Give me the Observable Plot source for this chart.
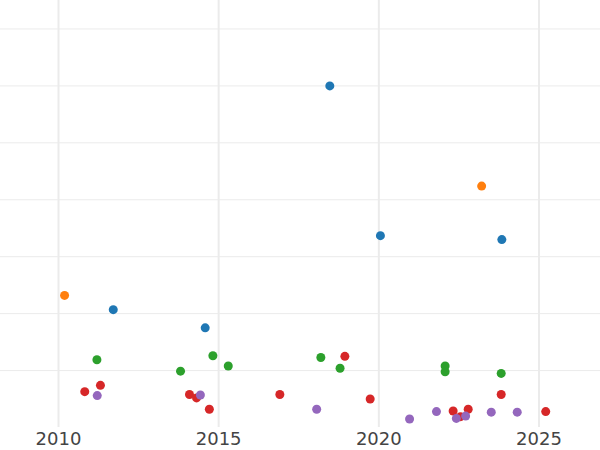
<!DOCTYPE html>
<html>
<head>
<meta charset="utf-8">
<script src="https://cdn.jsdelivr.net/npm/d3@7"></script>
<script src="https://cdn.jsdelivr.net/npm/@observablehq/plot@0.6"></script>
<style>
  html, body { margin: 0; padding: 0; background: #fff; }
  #chart { width: 600px; height: 450px; }
</style>
</head>
<body>
<div id="chart"></div>
<script>
// Series (colour groups) and their points: year (x) and value (y)
const seriesNames = ["Series 1", "Series 2", "Series 3", "Series 4", "Series 5"];
const seriesColors = ["#1f77b4", "#ff7f0e", "#2ca02c", "#d62728", "#9467bd"];

const s1Years   = [2018.47, 2020.05, 2023.84, 2011.71, 2014.58];
const s1Values  = [6.00, 3.37, 3.30, 2.07, 1.75];

const s2Years  = [2023.21, 2010.19];
const s2Values = [4.24, 2.32];

const s3Years  = [2011.20, 2013.81, 2014.82, 2015.30, 2018.19, 2018.79, 2022.07, 2022.07, 2023.82];
const s3Values = [1.19, 0.99, 1.26, 1.08, 1.23, 1.04, 1.08, 0.98, 0.95];

const s4Years  = [2010.82, 2011.31, 2014.09, 2014.31, 2014.71, 2016.91, 2018.94, 2019.73, 2022.32, 2022.55, 2022.79, 2023.82, 2025.21];
const s4Values = [0.63, 0.74, 0.58, 0.52, 0.32, 0.58, 1.25, 0.50, 0.29, 0.19, 0.32, 0.58, 0.28];

const s5Years  = [2011.21, 2014.43, 2018.06, 2020.96, 2021.80, 2022.42, 2022.71, 2023.51, 2024.32];
const s5Values = [0.56, 0.57, 0.32, 0.15, 0.28, 0.16, 0.20, 0.27, 0.27];

const xTicks = [2010, 2015, 2020, 2025];
const yGrid = [1, 2, 3, 4, 5, 6, 7];

const groups = [
  [s1Years, s1Values],
  [s2Years, s2Values],
  [s3Years, s3Values],
  [s4Years, s4Values],
  [s5Years, s5Values]
];
const data = [];
groups.forEach(([xs, ys], gi) => {
  xs.forEach((x, i) => data.push({ year: x, value: ys[i], series: seriesNames[gi] }));
});

const chart = Plot.plot({
  width: 600,
  height: 450,
  marginLeft: 0,
  marginRight: 0,
  marginTop: 0,
  marginBottom: 23,
  style: { fontFamily: "DejaVu Sans", background: "#fff" },
  x: { domain: [2008.19, 2026.92], label: null },
  y: { domain: [0, 7.5], axis: null },
  color: { type: "ordinal", domain: seriesNames, range: seriesColors },
  marks: [
    Plot.ruleY(yGrid, { stroke: "#ebebeb", strokeWidth: 1 }),
    Plot.ruleX(xTicks, { stroke: "#ebebeb", strokeWidth: 2 }),
    Plot.axisX({
      ticks: xTicks,
      tickSize: 0,
      tickPadding: 5,
      tickFormat: d => String(d),
      fontSize: 18,
      fill: "#444",
      label: null
    }),
    Plot.dot(data, {
      x: "year",
      y: "value",
      fill: "series",
      r: 4.5
    })
  ]
});
document.getElementById("chart").appendChild(chart);
</script>
</body>
</html>
